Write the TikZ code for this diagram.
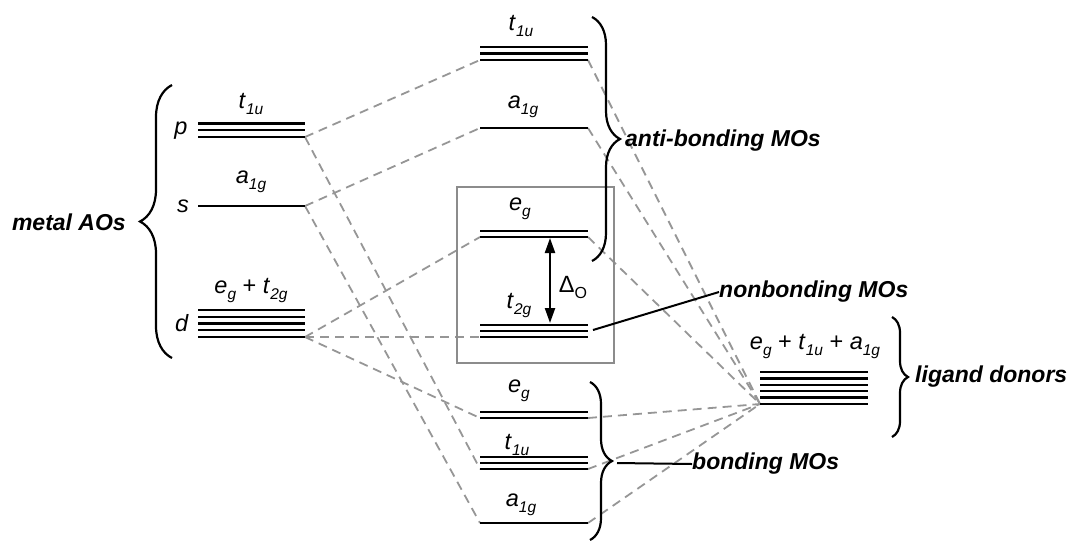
\documentclass[tikz,border=0pt]{standalone}
\usepackage{fontspec}
\setmainfont{Liberation Sans}
\usetikzlibrary{decorations.pathreplacing,arrows.meta}
\definecolor{dgray}{RGB}{150,150,150}
\definecolor{bgray}{RGB}{140,140,140}
\newcommand\orb[2]{\textit{#1}\raisebox{-6pt}{\fontsize{15.5}{16}\selectfont\textit{#2}}}
\begin{document}
\begin{tikzpicture}[x=1pt,y=-1pt,
 lvl/.style={line width=2.4pt,black},
 corr/.style={dgray,line width=1.8pt,dash pattern=on 9pt off 6pt},
 lab/.style={font=\fontsize{23.5}{25}\selectfont,inner sep=0pt},
 big/.style={font=\fontsize{23}{26}\selectfont\bfseries\itshape,inner sep=0pt},
 brc/.style={decorate,decoration={brace,amplitude=#1},line width=2.2pt},
]
\useasboundingbox (0,0) rectangle (1070,542);
% metal AO levels (bottom line ends)
\coordinate (pL) at (198,137); \coordinate (pR) at (305,137);
\coordinate (sL) at (198,206); \coordinate (sR) at (305,206);
\coordinate (dL) at (198,337); \coordinate (dR) at (305,337);
% MO levels
\coordinate (atL) at (480,60);  \coordinate (atR) at (588,60);
\coordinate (aaL) at (480,128); \coordinate (aaR) at (588,128);
\coordinate (aeL) at (480,237); \coordinate (aeR) at (588,237);
\coordinate (ntL) at (480,337); \coordinate (ntR) at (588,337);
\coordinate (beL) at (480,418); \coordinate (beR) at (588,418);
\coordinate (btL) at (480,469); \coordinate (btR) at (588,469);
\coordinate (baL) at (480,523); \coordinate (baR) at (588,523);
% ligand levels
\coordinate (lgL) at (760,404); \coordinate (lgR) at (868,404);

% correlation lines
\draw[corr] (pR) -- (atL);
\draw[corr] (pR) -- (btL);
\draw[corr] (sR) -- (aaL);
\draw[corr] (sR) -- (baL);
\draw[corr] (dR) -- (aeL);
\draw[corr] (dR) -- (ntL);
\draw[corr] (dR) -- (beL);
\foreach \n in {atR,aaR,aeR,beR,btR,baR} \draw[corr] (\n) -- (lgL);

% box
\node[draw=bgray,line width=2pt,minimum width=157pt,minimum height=176pt,inner sep=0pt] (box) at (535.5,275) {};

% levels
\foreach \k in {0,1,2} \draw[lvl] ([yshift=\k*6.8pt]pL) -- ([yshift=\k*6.8pt]pR);
\draw[lvl] (sL) -- (sR);
\foreach \k in {0,...,4} \draw[lvl] ([yshift=\k*6.75pt]dL) -- ([yshift=\k*6.75pt]dR);
\foreach \k in {0,1,2} \draw[lvl] ([yshift=\k*6.5pt]atL) -- ([yshift=\k*6.5pt]atR);
\draw[lvl] (aaL) -- (aaR);
\foreach \k in {0,1} \draw[lvl] ([yshift=\k*6pt]aeL) -- ([yshift=\k*6pt]aeR);
\foreach \k in {0,1,2} \draw[lvl] ([yshift=\k*6pt]ntL) -- ([yshift=\k*6pt]ntR);
\foreach \k in {0,1} \draw[lvl] ([yshift=\k*6pt]beL) -- ([yshift=\k*6pt]beR);
\foreach \k in {0,1,2} \draw[lvl] ([yshift=\k*6pt]btL) -- ([yshift=\k*6pt]btR);
\draw[lvl] (baL) -- (baR);
\foreach \k in {0,...,5} \draw[lvl] ([yshift=\k*6.4pt]lgL) -- ([yshift=\k*6.4pt]lgR);

% level labels
\node[lab] (lp) at (181,131) {\textit{p}};
\node[lab] (ls) at (183,206) {\textit{s}};
\node[lab] (ld) at (182,323) {\textit{d}};
\node[lab] (mt) at (251,104) {\orb{t}{1u}};
\node[lab] (ma) at (251,182) {\orb{a}{1g}};
\node[lab] (md) at (251,291) {\orb{e}{g} + \orb{t}{2g}};
\node[lab] (ct) at (521,26) {\orb{t}{1u}};
\node[lab] (ca) at (523,107) {\orb{a}{1g}};
\node[lab] (ce) at (520,209) {\orb{e}{g}};
\node[lab] (cn) at (519,306) {\orb{t}{2g}};
\node[lab] (be) at (519,391) {\orb{e}{g}};
\node[lab] (bt) at (517,445) {\orb{t}{1u}};
\node[lab] (ba) at (521,505) {\orb{a}{1g}};
\node[lab] (lg) at (815,347) {\orb{e}{g} + \orb{t}{1u} + \orb{a}{1g}};

% splitting arrow
\coordinate (dtop) at (550,238);
\coordinate (dbot) at (550,323);
\draw[line width=2.2pt,{Stealth[length=15pt,width=10pt,inset=0pt]}-{Stealth[length=15pt,width=10pt,inset=0pt]}] (dtop) -- (dbot);
\node[lab] (delta) at (573,287) {Δ\raisebox{-6pt}{\fontsize{16}{16}\selectfont O}};

% braces
\draw[brc=32pt] (172,358) -- (172,85);
\draw[brc=28pt] (592,17) -- (592,261);
\draw[brc=22pt] (590,382) -- (590,540);
\draw[brc=16pt] (892,317) -- (892,437);

% group labels
\node[big,anchor=east] (metal) at (126,222) {metal AOs};
\node[big,anchor=west] (anti) at (625,141) {anti-bonding MOs};
\node[big,anchor=west] (nonb) at (719,292) {nonbonding MOs};
\node[big,anchor=west] (bond) at (692,464) {bonding MOs};
\node[big,anchor=west] (lig) at (915,377) {ligand donors};

\coordinate (nbs) at (593,330);
\draw[line width=2pt] (nbs) -- (nonb.west);
\coordinate (bbs) at (617,463);
\draw[line width=2pt] (bbs) -- (bond.west);
\end{tikzpicture}
\end{document}
